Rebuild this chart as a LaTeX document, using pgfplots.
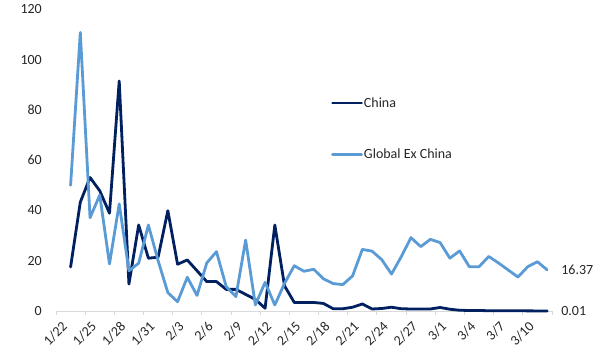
\documentclass[border=0pt]{standalone}
\usepackage{fontspec}
\setmainfont{Carlito}
\usepackage{pgfplots}
\pgfplotsset{compat=1.18}
\usepackage{pgfplotstable}

\definecolor{chinablue}{HTML}{002060}
\definecolor{globalblue}{HTML}{5B9BD5}
\definecolor{axisgray}{HTML}{D9D9D9}
\definecolor{labelgray}{HTML}{262626}

% day index (0 = 1/22) and daily value
\pgfplotstableread{
d v
1 17.5
2 43.3
3 53.1
4 47.8
5 38.9
6 91.5
7 10.7
8 34.2
9 21.0
10 21.4
11 39.9
12 18.6
13 20.3
14 16.0
15 11.7
16 11.7
17 8.6
18 8.6
19 6.6
20 4.6
21 1.1
22 34.2
23 10.0
24 3.4
25 3.4
26 3.4
27 3.0
28 0.9
29 0.9
30 1.5
31 2.8
32 0.8
33 1.0
34 1.5
35 0.9
36 0.8
37 0.8
38 0.8
39 1.4
40 0.7
41 0.3
42 0.2
43 0.2
44 0.1
45 0.1
46 0.1
47 0.1
48 0.05
49 0.03
50 0.01
}\china

\pgfplotstableread{
d v
1 50.0
2 110.8
3 37.1
4 46.1
5 18.7
6 42.6
7 16.0
8 19.0
9 34.2
10 20.0
11 7.3
12 3.7
13 13.4
14 6.2
15 19.1
16 23.6
17 9.7
18 5.7
19 28.2
20 2.4
21 11.4
22 2.4
23 11.0
24 18.0
25 15.8
26 16.6
27 12.8
28 10.9
29 10.5
30 14.0
31 24.5
32 23.8
33 20.4
34 14.7
35 21.6
36 29.2
37 25.6
38 28.5
39 27.2
40 21.0
41 23.9
42 17.6
43 17.6
44 21.7
45 19.1
46 16.3
47 13.5
48 17.6
49 19.6
50 16.37
}\globalex

\begin{document}
\begin{tikzpicture}
\useasboundingbox (0,0) rectangle (606pt,364pt);
\begin{axis}[
  at={(56pt,53pt)}, anchor=south west,
  scale only axis,
  width=496pt, height=301.7pt,
  xmin=-0.5, xmax=50.5,
  ymin=0, ymax=120,
  clip=false,
  axis x line*=bottom,
  axis y line*=left,
  x axis line style={-, draw=axisgray, line width=0.9pt},
  y axis line style={draw=none},
  ytick={0,20,...,120},
  ytick style={draw=none},
  yticklabel style={anchor=east, inner sep=0pt, xshift=-14pt},
  xtick={0,3,...,48},
  xticklabels={1/22,1/25,1/28,1/31,2/3,2/6,2/9,2/12,2/15,2/18,2/21,2/24,2/27,3/1,3/4,3/7,3/10},
  xtick style={draw=none},
  xticklabel style={xshift=4pt, yshift=-13pt, rotate=45, anchor=east, inner sep=0pt},
  extra x ticks={-0.5,2.5,...,50.5},
  extra x tick labels={},
  extra x tick style={tick align=outside, major tick length=4pt,
    xtick style={draw=axisgray, line width=0.9pt}},
  tick label style={font=\fontsize{14}{16}\selectfont, text=labelgray},
  /pgf/number format/assume math mode=true,
  legend style={at={(0.5544,0.6044)}, anchor=west, draw=none, fill=none,
    font=\fontsize{14}{16}\selectfont, text=labelgray,
    row sep=38pt, inner sep=0pt,
    nodes={inner sep=1pt}},
  legend cell align=left,
  legend image code/.code={\draw[#1] (0pt,0pt) -- (29pt,0pt);},
  every axis plot/.append style={line width=2.8pt, line join=round, line cap=round},
]
\addplot[chinablue, no markers] table[x=d, y=v] {\china};
\addlegendentry{China}
\addplot[globalblue, no markers] table[x=d, y=v] {\globalex};
\addlegendentry{Global Ex China}
\node[anchor=west, inner sep=0pt, xshift=14pt, font=\fontsize{14}{16}\selectfont, text=labelgray]
  at (axis cs:50,16.37) {16.37};
\node[anchor=west, inner sep=0pt, xshift=14pt, font=\fontsize{14}{16}\selectfont, text=labelgray]
  at (axis cs:50,0.01) {0.01};
\end{axis}
\end{tikzpicture}
\end{document}
